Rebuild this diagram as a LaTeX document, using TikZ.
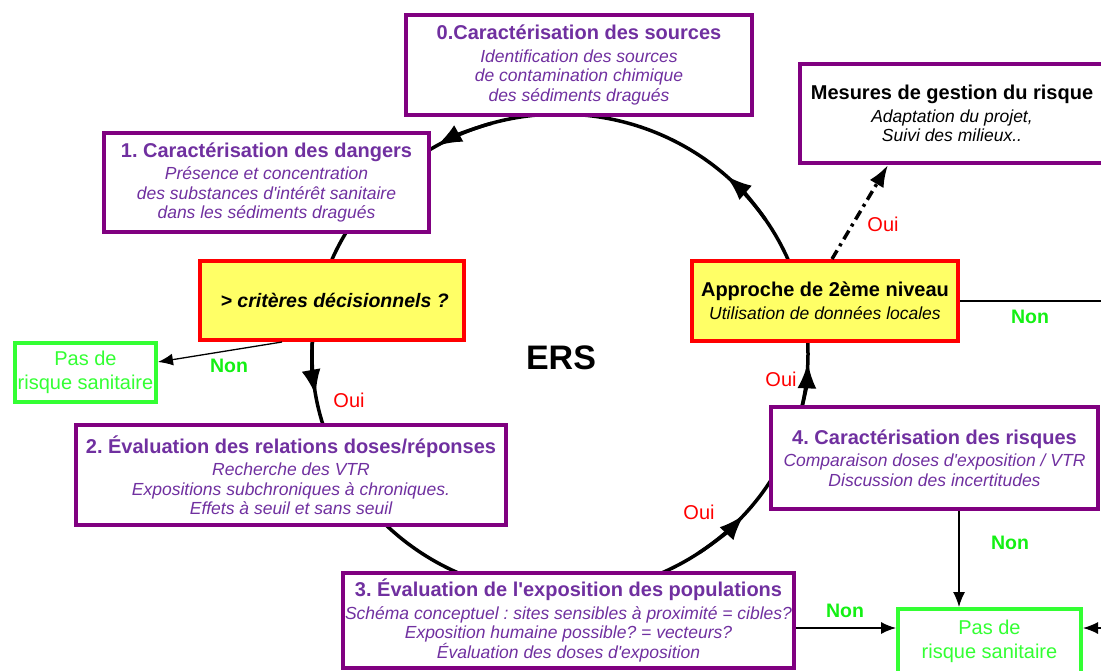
\documentclass[tikz,border=0pt]{standalone}
\usepackage{fontspec}
\setmainfont{Liberation Sans}[Ligatures=TeXOff]
\usetikzlibrary{arrows.meta,calc}
\frenchspacing
\definecolor{ersviolet}{RGB}{128,0,128}
\definecolor{erstexte}{RGB}{112,48,160}
\definecolor{ersvert}{RGB}{51,255,51}
\definecolor{ersnon}{RGB}{20,240,20}
\definecolor{ersjaune}{RGB}{255,255,102}
\newcommand{\etapetitre}[1]{{\fontsize{20}{22}\selectfont\bfseries\upshape #1}\\[3pt]}
\tikzset{
  etape/.style={draw=ersviolet, line width=4pt, fill=white, align=center, inner sep=0pt,
    text=erstexte, font=\fontsize{17.5}{19.5}\selectfont\itshape},
  decision/.style={draw=red, line width=4pt, fill=ersjaune, align=center, inner sep=0pt,
    font=\fontsize{17.5}{19.5}\selectfont\itshape},
  pasrisque/.style={draw=ersvert, line width=4pt, fill=white, align=center, inner sep=0pt,
    text=ersvert, font=\fontsize{20}{24}\selectfont},
  non/.style={text=ersnon, font=\fontsize{19.5}{20}\selectfont\bfseries},
  oui/.style={text=red, font=\fontsize{20}{20}\selectfont},
  fleche/.style={-{Latex[length=15pt,width=12pt]}, line width=1.3pt},
  cyclefleche/.style={-{Latex[length=26pt,width=19pt]}, line width=3.5pt}
}

\begin{document}
\begin{tikzpicture}[x=1pt,y=-1pt]
\useasboundingbox (0,0) rectangle (1101,671);
% cycle ERS
\coordinate (c) at (560,354);
\draw[line width=3.5pt] (c) ellipse [x radius=248, y radius=240];
\foreach \a/\b in {254/240, 184/170, 56/42, 16/2, 326/312}
  \draw[cyclefleche] ($(c)+(\a:248 and 240)$) arc [start angle=\a, end angle=\b, x radius=248, y radius=240];
\node[font=\fontsize{34}{34}\selectfont\bfseries] (ers) at (561,358) {ERS};

\node[etape, minimum width=346pt, minimum height=100pt] (sources) at (579,65)
  {\etapetitre{0.Caractérisation des sources}Identification des sources\\ de contamination chimique\\ des sédiments dragués};
\node[etape, text=black, minimum width=304pt, minimum height=99pt] (gestion) at (952,113.5)
  {\etapetitre{Mesures de gestion du risque}Adaptation du projet,\\ Suivi des milieux..};
\node[etape, minimum width=325pt, minimum height=99pt] (dangers) at (266.5,182.5)
  {\etapetitre{1. Caractérisation des dangers}Présence et concentration\\ des substances d'intérêt sanitaire\\ dans les sédiments dragués};
\node[decision, minimum width=264pt, minimum height=79pt, font=\fontsize{19.5}{20}\selectfont\bfseries\itshape] (criteres) at (332,300.5)
  {\ > critères décisionnels ?};
\node[pasrisque, minimum width=141pt, minimum height=59pt] (pas1) at (85.5,372.5) {Pas de\\risque sanitaire};
\node[etape, minimum width=430pt, minimum height=100pt] (doses) at (291,475)
  {\etapetitre{2. Évaluation des relations doses/réponses}Recherche des VTR\\ Expositions subchroniques à chroniques.\\ Effets à seuil et sans seuil};
\node[etape, minimum width=451pt, minimum height=95pt] (exposition) at (568.5,620.5)
  {\etapetitre{3. Évaluation de l'exposition des populations}Schéma conceptuel : sites sensibles à proximité = cibles?\\ Exposition humaine possible? = vecteurs?\\ Évaluation des doses d'exposition};
\node[etape, minimum width=327pt, minimum height=102pt] (risques) at (934.5,458)
  {\etapetitre{4. Caractérisation des risques}Comparaison doses d'exposition / VTR\\ Discussion des incertitudes};
\node[decision, minimum width=266pt, minimum height=80pt] (approche) at (825,301)
  {\etapetitre{Approche de 2ème niveau}Utilisation de données locales};
\node[pasrisque, minimum width=183pt, minimum height=64pt] (pas2) at (989.5,641) {Pas de\\risque sanitaire};

\node[non] (non1) at (229,366) {Non};
\node[oui] (oui1) at (349,400) {Oui};
\node[oui] (oui2) at (699,512) {Oui};
\node[oui] (oui3) at (781,379) {Oui};
\node[oui] (oui4) at (883,224) {Oui};
\node[non] (non2) at (1030,317) {Non};
\node[non] (non3) at (1010,543) {Non};
\node[non] (non4) at (845,611) {Non};

\draw[fleche] ([xshift=-50pt]criteres.south) -- ([yshift=10.5pt]pas1.east);
\draw[fleche] ([yshift=-7.5pt]exposition.east) -- ([yshift=13pt]pas2.west);
\draw[fleche] ([xshift=24.5pt]risques.south) -- ([xshift=-30.5pt]pas2.north);
\draw[fleche] (approche.east) -- ++(160,0) |- ([yshift=13pt]pas2.east);
\draw[line width=3.5pt, dash pattern=on 10pt off 5pt on 3pt off 5pt, -{Latex[length=22pt,width=16pt]}]
  ([xshift=7pt]approche.north) -- ([xshift=-64pt]gestion.south);
\end{tikzpicture}
\end{document}
